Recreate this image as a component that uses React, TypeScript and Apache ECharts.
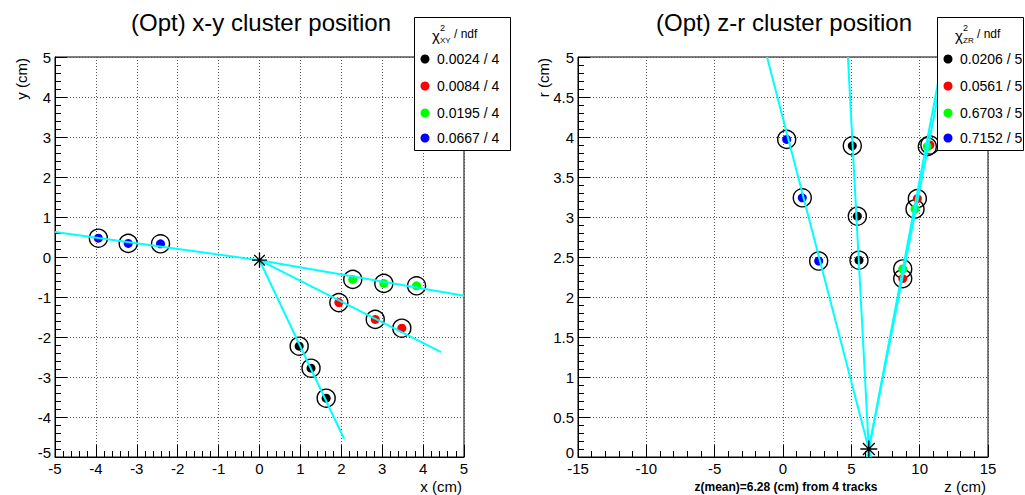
import React, { useEffect, useRef } from "react";
import * as echarts from "echarts";

const FONT = '"Liberation Sans", Arial, Helvetica, sans-serif';

// ---- x-y plot data (cm) ----
const xyBlack = [[0.97, -2.23], [1.26, -2.78], [1.63, -3.53]];
const xyRed = [[1.94, -1.14], [2.83, -1.56], [3.48, -1.78]];
const xyGreen = [[2.28, -0.56], [3.04, -0.66], [3.84, -0.72]];
const xyBlue = [[-3.94, 0.47], [-3.21, 0.34], [-2.42, 0.33]];
const xyVertex = [[0, -0.08]];
const trackXYBlack = [[0, -0.08], [2.07, -4.55]];
const trackXYRed = [[0, -0.08], [4.44, -2.38]];
const trackXYGreen = [[0, -0.08], [5, -0.97]];
const trackXYBlue = [[-5, 0.625], [0, -0.08]];

// ---- z-r plot data (cm) ----
const zrBlack = [[5.07, 3.89], [5.44, 3.01], [5.56, 2.46]];
const zrRed = [[10.75, 3.9], [9.83, 3.23], [8.76, 2.23]];
const zrGreen = [[10.56, 3.88], [9.66, 3.1], [8.76, 2.35]];
const zrBlue = [[0.27, 3.97], [1.41, 3.24], [2.61, 2.45]];
const zrVertex = [[6.28, 0.1]];
const trackZRBlack = [[6.31, 0], [4.75, 5]];
const trackZRRed = [[6.17, 0], [11.9, 5]];
const trackZRGreen = [[6.17, 0], [11.7, 5]];
const trackZRBlue = [[6.43, 0], [-1.17, 5]];

// ---- legends ----
const colors = ["#000000", "#ff0000", "#00ff00", "#0000ff"];
const chi2XY = ["0.0024 / 4", "0.0084 / 4", "0.0195 / 4", "0.0667 / 4"];
const chi2ZR = ["0.0206 / 5", "0.0561 / 5", "0.6703 / 5", "0.7152 / 5"];

const titleXY = "(Opt) x-y cluster position";
const titleZR = "(Opt) z-r cluster position";
const zMeanText = "z(mean)=6.28 (cm) from 4 tracks";

function valAxis(gridIndex: number, min: number, max: number, interval: number, liftMin: boolean) {
  return {
    type: "value",
    gridIndex,
    min,
    max,
    interval,
    axisLine: { show: true, onZero: false, lineStyle: { color: "#000", width: 1 } },
    axisTick: { show: true, inside: true, length: 12, lineStyle: { color: "#000", width: 1 } },
    minorTick: { show: true, splitNumber: 5, length: 6, lineStyle: { color: "#000", width: 1 } },
    splitLine: { show: true, lineStyle: { color: "#555", type: [1, 2], width: 1 } },
    minorSplitLine: { show: false },
    axisLabel: {
      color: "#000",
      fontSize: 15,
      fontFamily: FONT,
      margin: 4,
      formatter: (v: number) => (liftMin && v === min ? "{low|" + v + "}" : String(v)),
      rich: { low: { fontSize: 15, fontFamily: FONT, color: "#000", padding: [0, 0, 9, 0] } },
    },
  };
}

function dots(data: number[][], color: string, xi: number) {
  return {
    type: "scatter",
    xAxisIndex: xi,
    yAxisIndex: xi,
    data,
    symbol: "circle",
    symbolSize: 9,
    itemStyle: { color, opacity: 1 },
    z: 3,
    silent: true,
  };
}

function rings(data: number[][], xi: number) {
  return {
    type: "scatter",
    xAxisIndex: xi,
    yAxisIndex: xi,
    data,
    symbol: "circle",
    symbolSize: 18,
    itemStyle: { color: "rgba(0,0,0,0)", borderColor: "#000", borderWidth: 1.4, opacity: 1 },
    z: 2,
    silent: true,
  };
}

function track(data: number[][], xi: number) {
  return {
    type: "line",
    xAxisIndex: xi,
    yAxisIndex: xi,
    data,
    showSymbol: false,
    symbol: "none",
    lineStyle: { color: "#00ffff", width: 2 },
    z: 4,
    silent: true,
    clip: true,
  };
}

const STAR = "path://M10,0 L10,20 M0,10 L20,10 M3,3 L17,17 M3,17 L17,3";

function star(data: number[][], xi: number, size: number) {
  return {
    type: "scatter",
    xAxisIndex: xi,
    yAxisIndex: xi,
    data,
    symbol: STAR,
    symbolSize: size,
    itemStyle: { color: "rgba(0,0,0,0)", borderColor: "#000", borderWidth: 1.3, opacity: 1 },
    z: 5,
    silent: true,
  };
}

function legend(boxX: number, boxW: number, sub: string, labels: string[]) {
  const els: any[] = [];
  els.push({
    type: "rect",
    shape: { x: boxX + 0.5, y: 17.5, width: boxW, height: 133 },
    style: { fill: "#fff", stroke: "#000", lineWidth: 1 },
    z: 100,
  });
  const cx = boxX + 18;
  els.push({ type: "text", x: cx, y: 35, z: 101, style: { text: "χ", fontSize: 15, fontFamily: FONT, fill: "#000", textAlign: "left", textVerticalAlign: "middle" } });
  els.push({ type: "text", x: cx + 8, y: 28, z: 101, style: { text: "2", fontSize: 9, fontFamily: FONT, fill: "#000", textAlign: "left", textVerticalAlign: "middle" } });
  els.push({ type: "text", x: cx + 8, y: 40, z: 101, style: { text: sub, fontSize: 8, fontFamily: FONT, fill: "#000", textAlign: "left", textVerticalAlign: "middle" } });
  els.push({ type: "text", x: cx + 22, y: 34, z: 101, style: { text: "/ ndf", fontSize: 12, fontFamily: FONT, fill: "#000", textAlign: "left", textVerticalAlign: "middle" } });
  const rowsY = [59, 86, 113, 138];
  labels.forEach((t, i) => {
    els.push({ type: "circle", shape: { cx: boxX + 11, cy: rowsY[i], r: 4.5 }, style: { fill: colors[i] }, z: 101 });
    els.push({ type: "text", x: boxX + 23, y: rowsY[i], z: 101, style: { text: t, fontSize: 14, fontFamily: FONT, fill: "#000", textAlign: "left", textVerticalAlign: "middle" } });
  });
  return els;
}

function buildOption() {
  const xyAll = [...xyBlack, ...xyRed, ...xyGreen, ...xyBlue];
  const zrAll = [...zrBlack, ...zrRed, ...zrGreen, ...zrBlue];
  return {
    animation: false,
    backgroundColor: "#fff",
    grid: [
      { left: 55, top: 57, width: 409, height: 400, show: true, borderColor: "#000", borderWidth: 1, backgroundColor: "transparent" },
      { left: 578, top: 57, width: 410, height: 400, show: true, borderColor: "#000", borderWidth: 1, backgroundColor: "transparent" },
    ],
    xAxis: [valAxis(0, -5, 5, 1, false), valAxis(1, -15, 15, 5, false)],
    yAxis: [valAxis(0, -5, 5, 1, true), valAxis(1, 0, 5, 0.5, true)],
    series: [
      rings(xyAll, 0),
      dots(xyBlack, colors[0], 0),
      dots(xyRed, colors[1], 0),
      dots(xyGreen, colors[2], 0),
      dots(xyBlue, colors[3], 0),
      track(trackXYBlack, 0),
      track(trackXYRed, 0),
      track(trackXYGreen, 0),
      track(trackXYBlue, 0),
      star(xyVertex, 0, 15),
      rings(zrAll, 1),
      dots(zrBlack, colors[0], 1),
      dots(zrRed, colors[1], 1),
      dots(zrGreen, colors[2], 1),
      dots(zrBlue, colors[3], 1),
      track(trackZRBlack, 1),
      track(trackZRRed, 1),
      track(trackZRGreen, 1),
      track(trackZRBlue, 1),
      star(zrVertex, 1, 17),
    ],
    graphic: [
      { type: "text", x: 261, y: 22, z: 100, style: { text: titleXY, fontSize: 24, fontFamily: FONT, fill: "#000", textAlign: "center", textVerticalAlign: "middle" } },
      { type: "text", x: 784, y: 22, z: 100, style: { text: titleZR, fontSize: 24, fontFamily: FONT, fill: "#000", textAlign: "center", textVerticalAlign: "middle" } },
      { type: "text", x: 462, y: 486, z: 100, style: { text: "x (cm)", fontSize: 15, fontFamily: FONT, fill: "#000", textAlign: "right", textVerticalAlign: "middle" } },
      { type: "text", x: 986, y: 486, z: 100, style: { text: "z (cm)", fontSize: 15, fontFamily: FONT, fill: "#000", textAlign: "right", textVerticalAlign: "middle" } },
      { type: "text", x: 21, y: 58, rotation: Math.PI / 2, z: 100, style: { text: "y (cm)", fontSize: 15, fontFamily: FONT, fill: "#000", textAlign: "right", textVerticalAlign: "middle" } },
      { type: "text", x: 543, y: 58, rotation: Math.PI / 2, z: 100, style: { text: "r (cm)", fontSize: 15, fontFamily: FONT, fill: "#000", textAlign: "right", textVerticalAlign: "middle" } },
      { type: "text", x: 786, y: 487, z: 100, style: { text: zMeanText, fontSize: 12, fontWeight: "bold", fontFamily: FONT, fill: "#000", textAlign: "center", textVerticalAlign: "middle" } },
      ...legend(414, 96, "XY", chi2XY),
      ...legend(937, 86, "ZR", chi2ZR),
    ],
  };
}

export default function App() {
  const ref = useRef<HTMLDivElement>(null);
  useEffect(() => {
    const chart = echarts.init(ref.current as HTMLDivElement, null, { renderer: "svg" });
    chart.setOption(buildOption() as any);
    return () => chart.dispose();
  }, []);
  return (
    <div
      ref={ref}
      style={{ position: "absolute", left: 0, top: 0, width: 1025, height: 495, background: "#fff" }}
    />
  );
}
